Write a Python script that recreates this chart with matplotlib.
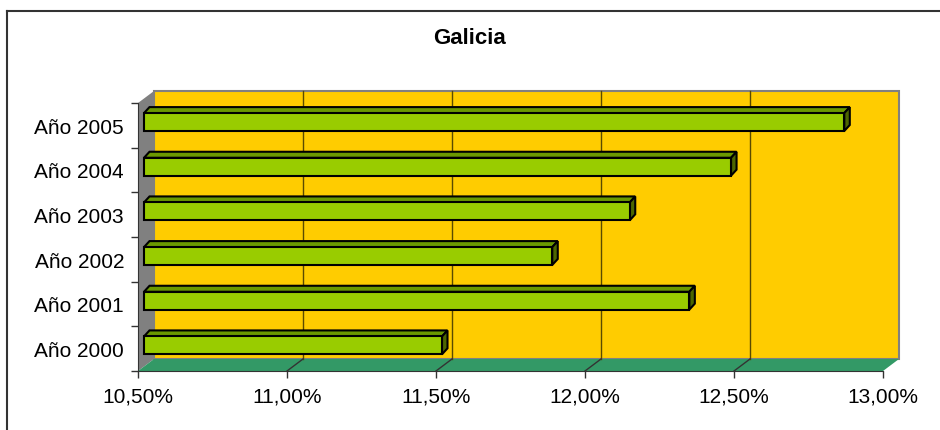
import matplotlib.pyplot as plt
from matplotlib.patches import Polygon, Rectangle
from matplotlib.lines import Line2D

plt.rcParams['font.family'] = ['Liberation Sans', 'DejaVu Sans']

# data
years = ["Año 2000", "Año 2001", "Año 2002", "Año 2003", "Año 2004", "Año 2005"]
values = [11.50, 12.33, 11.87, 12.13, 12.47, 12.85]
x_ticks = [10.5, 11.0, 11.5, 12.0, 12.5, 13.0]
x_labels = ["10,50%", "11,00%", "11,50%", "12,00%", "12,50%", "13,00%"]
title = "Galicia"

x_min, x_max = 10.5, 13.0
y_min, y_max = -0.5, len(years) - 0.5

fig = plt.figure(figsize=(9.4, 4.31), dpi=100)
ax = fig.add_axes([138 / 940, 59 / 431, 745 / 940, 268 / 431])
ax.set_xlim(x_min, x_max)
ax.set_ylim(y_min, y_max)

# size of one pixel in data units
px = (x_max - x_min) / 745
py = (y_max - y_min) / 268

# depth offset of the 3d box
dx = 16 * px
dy = 12 * py

# back wall
ax.add_patch(Rectangle((x_min + dx, y_min + dy), x_max - x_min, y_max - y_min,
                       facecolor="#FFCC00", edgecolor="#808080", lw=1.5,
                       clip_on=False, zorder=1))
for v in x_ticks[1:-1]:
    ax.plot([v + dx, v + dx], [y_min + dy, y_max + dy], color="#5a4a00",
            lw=1, clip_on=False, zorder=1.5)

# left wall
ax.add_patch(Polygon([(x_min, y_min), (x_min + dx, y_min + dy),
                      (x_min + dx, y_max + dy), (x_min, y_max)],
                     closed=True, facecolor="#808080", edgecolor="none",
                     clip_on=False, zorder=1.2))
# floor
ax.add_patch(Polygon([(x_min, y_min), (x_max, y_min),
                      (x_max + dx, y_min + dy), (x_min + dx, y_min + dy)],
                     closed=True, facecolor="#339966", edgecolor="none",
                     clip_on=False, zorder=1.2))
for v in x_ticks[1:-1]:
    ax.plot([v, v + dx], [y_min, y_min + dy], color="#333333", lw=1,
            clip_on=False, zorder=1.5)

# bars: front face shifted into the box, then top and side faces
off_x = 6 * px
off_y = 3.3 * py
bdx = 5.5 * px
bdy = 6 * py
h = 0.4
for i, v in enumerate(values):
    x0 = x_min + off_x
    x1 = v + off_x
    yb = i - h / 2 + off_y
    yt = i + h / 2 + off_y
    ax.add_patch(Polygon([(x0, yt), (x1, yt), (x1 + bdx, yt + bdy),
                          (x0 + bdx, yt + bdy)], closed=True,
                         facecolor="#6B9900", edgecolor="black", lw=1.5,
                         zorder=3, clip_on=False))
    ax.add_patch(Polygon([(x1, yb), (x1, yt), (x1 + bdx, yt + bdy),
                          (x1 + bdx, yb + bdy)], closed=True,
                         facecolor="#4D6600", edgecolor="black", lw=1.5,
                         zorder=3, clip_on=False))
    ax.add_patch(Rectangle((x0, yb), x1 - x0, yt - yb, facecolor="#99CC00",
                           edgecolor="black", lw=1.5, zorder=4, clip_on=False))

# axes styling
for s in ["top", "right"]:
    ax.spines[s].set_visible(False)
ax.spines["left"].set_color("#333333")
ax.spines["bottom"].set_color("#333333")
ax.spines["left"].set_zorder(5)
ax.spines["bottom"].set_zorder(5)
ax.patch.set_visible(False)

ax.set_xticks(x_ticks)
ax.set_xticklabels(x_labels, fontsize=15)
ax.tick_params(axis="x", direction="out", length=5, width=1, color="#333333", pad=6)

ax.set_yticks([y_min + k for k in range(len(years) + 1)])
ax.set_yticklabels([])
ax.set_yticks(range(len(years)), minor=True)
ax.set_yticklabels(years, minor=True, fontsize=15)
ax.tick_params(axis="y", which="major", direction="out", length=5, width=1, color="#333333")
ax.tick_params(axis="y", which="minor", length=0, pad=10)

fig.text(0.5, 1 - 39 / 431, title, ha="center", va="center",
         fontsize=16, fontweight="bold")

# outer chart frame (left and top edges)
fig.add_artist(Line2D([7 / 940, 7 / 940], [0, 1 - 12 / 431], transform=fig.transFigure,
                      color="#333333", lw=1.5))
fig.add_artist(Line2D([7 / 940, 1], [1 - 12 / 431, 1 - 12 / 431], transform=fig.transFigure,
                      color="#333333", lw=1.5))

fig.savefig("out.png", dpi=100)
